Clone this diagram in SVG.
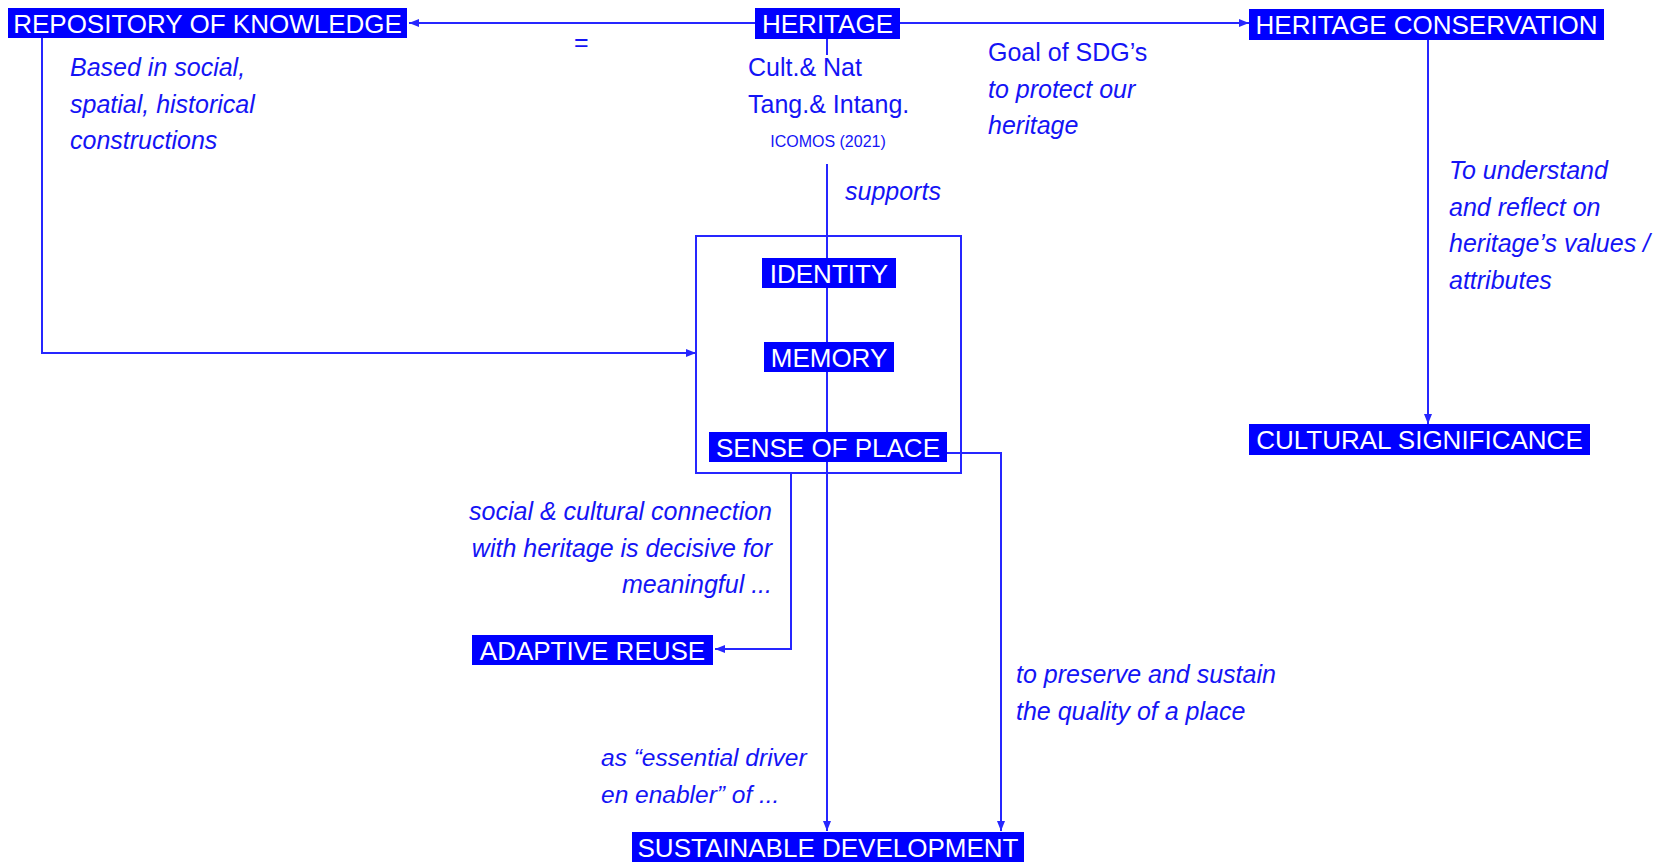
<svg xmlns="http://www.w3.org/2000/svg" width="1659" height="862" viewBox="0 0 1659 862">
<style>
.box{fill:#0000ff;}
.bt{fill:#ffffff;font-family:"Liberation Sans",Arial,sans-serif;font-size:26px;text-anchor:middle;}
.t{fill:#1414f5;font-family:"Liberation Sans",Arial,sans-serif;font-size:25px;}
.i{font-style:italic;}
.ln{fill:none;stroke:#2626ff;stroke-width:2;}
</style>
<defs>
<marker id="ah" viewBox="0 0 10 8" refX="10" refY="4" markerWidth="10" markerHeight="8" markerUnits="userSpaceOnUse" orient="auto">
<path d="M0,0 L10,4 L0,8 z" fill="#2626ff"/>
</marker>
</defs>
<rect width="1659" height="862" fill="#ffffff"/>
<g id="connectors">
<line class="ln" x1="755" y1="23" x2="409" y2="23" marker-end="url(#ah)"/>
<line class="ln" x1="900" y1="23" x2="1249" y2="23" marker-end="url(#ah)"/>
<line class="ln" x1="1428" y1="40" x2="1428" y2="424" marker-end="url(#ah)"/>
<line class="ln" x1="827" y1="39" x2="827" y2="55"/>
<line class="ln" x1="827" y1="164" x2="827" y2="831" marker-end="url(#ah)"/>
<polyline class="ln" points="42,38 42,353 696,353" marker-end="url(#ah)"/>
<polyline class="ln" points="947,453 1001,453 1001,831" marker-end="url(#ah)"/>
<polyline class="ln" points="791,473 791,649 715,649" marker-end="url(#ah)"/>
</g>
<g id="group-box"><rect x="696" y="236" width="265" height="237" class="ln"/></g>
<g id="repository"><rect class="box" x="8" y="8" width="399" height="30"/><text class="bt" x="207.5" y="32.5">REPOSITORY OF KNOWLEDGE</text></g>
<g id="heritage"><rect class="box" x="755" y="8" width="145" height="31"/><text class="bt" x="827.5" y="32.5">HERITAGE</text></g>
<g id="heritage-conservation"><rect class="box" x="1249" y="9" width="355" height="31"/><text class="bt" x="1426.5" y="34">HERITAGE CONSERVATION</text></g>
<g id="cultural-significance"><rect class="box" x="1249" y="424" width="341" height="31"/><text class="bt" x="1419.5" y="449">CULTURAL SIGNIFICANCE</text></g>
<g id="identity"><rect class="box" x="762" y="258" width="134" height="30"/><text class="bt" x="829" y="282.5">IDENTITY</text></g>
<g id="memory"><rect class="box" x="764" y="342" width="130" height="30"/><text class="bt" x="829" y="366.5">MEMORY</text></g>
<g id="sense-of-place"><rect class="box" x="709" y="432" width="238" height="30"/><text class="bt" x="828" y="456.5">SENSE OF PLACE</text></g>
<g id="adaptive-reuse"><rect class="box" x="472" y="635" width="241" height="30"/><text class="bt" x="592.5" y="659.5">ADAPTIVE REUSE</text></g>
<g id="sustainable-development"><rect class="box" x="632" y="832" width="392" height="30"/><text class="bt" x="828" y="856.5">SUSTAINABLE DEVELOPMENT</text></g>
<g id="labels">
<text class="t" x="574" y="51">=</text>
<text class="t i" x="70"><tspan x="70" y="76">Based in social,</tspan><tspan x="70" y="113">spatial, historical</tspan><tspan x="70" y="149">constructions</tspan></text>
<text class="t" x="748"><tspan x="748" y="76">Cult.&amp; Nat</tspan><tspan x="748" y="113">Tang.&amp; Intang.</tspan></text>
<text class="t" x="828" y="147" style="font-size:16px;text-anchor:middle">ICOMOS (2021)</text>
<text class="t" x="988" y="61">Goal of SDG’s</text>
<text class="t i" x="988"><tspan x="988" y="98">to protect our</tspan><tspan x="988" y="134">heritage</tspan></text>
<text class="t i" x="845" y="200">supports</text>
<text class="t i" x="1449"><tspan x="1449" y="179">To understand</tspan><tspan x="1449" y="216">and reflect on</tspan><tspan x="1449" y="252">heritage’s values /</tspan><tspan x="1449" y="289">attributes</tspan></text>
<text class="t i" style="text-anchor:end"><tspan x="772" y="520">social &amp; cultural connection</tspan><tspan x="772" y="557">with heritage is decisive for</tspan><tspan x="772" y="593">meaningful ...</tspan></text>
<text class="t i" x="1016"><tspan x="1016" y="683">to preserve and sustain</tspan><tspan x="1016" y="720">the quality of a place</tspan></text>
<text class="t i" x="601" style="font-size:24.5px"><tspan x="601" y="766">as “essential driver</tspan><tspan x="601" y="803">en enabler” of ...</tspan></text>
</g>
</svg>
